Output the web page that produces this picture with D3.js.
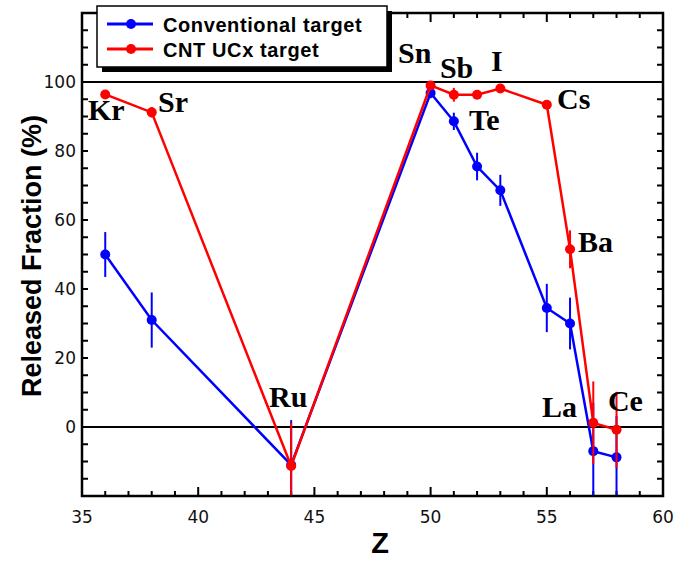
<!DOCTYPE html>
<html lang="en">
<head>
<meta charset="utf-8">
<title>Released fraction vs Z</title>
<script src="https://cdn.jsdelivr.net/npm/d3@7"></script>
<style>
  body { margin: 0; background: #fff; }
  .tick_text { font-family: "DejaVu Sans", Verdana, sans-serif; font-size: 17px; fill: #111; }
  .axis_title { font-family: "Liberation Sans", Arial, sans-serif; font-weight: bold; fill: black; }
  .elem_text { font-family: "Liberation Serif", "Times New Roman", serif; font-weight: bold; font-size: 30px; fill: black; }
  .legend_text { font-family: "Liberation Sans", Arial, sans-serif; font-weight: bold; font-size: 20px; letter-spacing: 0.6px; fill: black; }
</style>
</head>
<body>
<div id="chart"></div>
<script>
// data
var elements = ["Kr", "Sr", "Ru", "Sn", "Sb", "Te", "I", "Cs", "Ba", "La", "Ce"];
var zValues = [36, 38, 44, 50, 51, 52, 53, 55, 56, 57, 58];
var conventional = [50, 31, -11, 96.8, 88.6, 75.5, 68.6, 34.5, 30, -7, -8.8];
var conventionalErr = [6.5, 8, 13, 1.5, 2.5, 4, 4.5, 7, 7.5, 14, 12];
var cnt = [96.4, 91.2, -11.3, 99, 96.3, 96.3, 98.1, 93.4, 51.5, 1.2, -0.8];
var cntErr = [1, 1.5, 12.5, 1, 2, 1, 1, 1, 5.5, 12, 11];
var seriesNames = ["Conventional target", "CNT UCx target"];
var seriesColors = ["#0000ff", "#ff0000"];
var yTickLabels = [0, 20, 40, 60, 80, 100];
var xTickLabels = [35, 40, 45, 50, 55, 60];
// where each element name sits, in data units (z, value at baseline)
var labelAt = [[35.26, 88.9], [38.27, 91.2], [43.05, 5.7], [48.6, 105.4], [50.4, 101.1],
               [51.65, 86.0], [52.6, 103.1], [55.44, 92.1], [56.34, 50.6], [54.79, 2.8], [57.63, 4.6]];

var W = 680, H = 562;
var margin = {top: 13, right: 17, bottom: 66, left: 82};
var width = W - margin.left - margin.right,
    height = H - margin.top - margin.bottom;

var svg = d3.select("#chart").append("svg")
  .attr("width", W).attr("height", H);
var g = svg.append("g")
  .attr("transform", "translate(" + margin.left + "," + margin.top + ")");

var x = d3.scaleLinear().domain([35, 60]).range([0, width]);
var y = d3.scaleLinear().domain([-20, 120]).range([height, 0]);

g.append("defs").append("clipPath").attr("id", "plotclip")
  .append("rect").attr("width", width).attr("height", height);

// ticks (inside, mirrored)
var ticks = g.append("g").attr("stroke", "black").attr("stroke-width", 2);
d3.range(35, 61, 1).forEach(function(z) {
  var len = (z % 5 === 0) ? 9 : 5;
  ticks.append("line").attr("x1", x(z)).attr("x2", x(z)).attr("y1", height).attr("y2", height - len);
  ticks.append("line").attr("x1", x(z)).attr("x2", x(z)).attr("y1", 0).attr("y2", len);
});
d3.range(-20, 121, 5).forEach(function(v) {
  ticks.append("line").attr("x1", 0).attr("x2", 6).attr("y1", y(v)).attr("y2", y(v));
  ticks.append("line").attr("x1", width).attr("x2", width - 6).attr("y1", y(v)).attr("y2", y(v));
});

// reference lines at 0 and 100
[0, 100].forEach(function(v) {
  g.append("line").attr("x1", 0).attr("x2", width).attr("y1", y(v)).attr("y2", y(v))
    .attr("stroke", "black").attr("stroke-width", 2);
});

g.selectAll(".ytl").data(yTickLabels).enter().append("text")
  .attr("class", "tick_text").attr("x", -6).attr("y", function(d) { return y(d) + 6; })
  .attr("text-anchor", "end").text(function(d) { return d; });
g.selectAll(".xtl").data(xTickLabels).enter().append("text")
  .attr("class", "tick_text").attr("x", function(d) { return x(d); }).attr("y", height + 27)
  .attr("text-anchor", "middle").text(function(d) { return d; });

// series
var series = [conventional, cnt];
var errs = [conventionalErr, cntErr];
var plot = g.append("g").attr("clip-path", "url(#plotclip)");
var line = d3.line().x(function(d) { return x(d[0]); }).y(function(d) { return y(d[1]); });

series.forEach(function(vals, s) {
  var pts = zValues.map(function(z, i) { return [z, vals[i], errs[s][i]]; });
  var sg = plot.append("g");
  sg.selectAll("line.err").data(pts).enter().append("line")
    .attr("x1", function(d) { return x(d[0]); }).attr("x2", function(d) { return x(d[0]); })
    .attr("y1", function(d) { return y(d[1] - d[2]); }).attr("y2", function(d) { return y(d[1] + d[2]); })
    .attr("stroke", seriesColors[s]).attr("stroke-width", 2);
  sg.append("path").datum(pts).attr("d", line)
    .attr("fill", "none").attr("stroke", seriesColors[s]).attr("stroke-width", 2.5);
  sg.selectAll("circle").data(pts).enter().append("circle")
    .attr("cx", function(d) { return x(d[0]); }).attr("cy", function(d) { return y(d[1]); })
    .attr("r", 5).attr("fill", seriesColors[s]);
});

// frame
g.append("rect").attr("width", width).attr("height", height)
  .attr("fill", "none").attr("stroke", "black").attr("stroke-width", 2.5);

// element labels
g.selectAll(".elem").data(elements).enter().append("text")
  .attr("class", "elem_text")
  .attr("x", function(d, i) { return x(labelAt[i][0]); })
  .attr("y", function(d, i) { return y(labelAt[i][1]); })
  .text(function(d) { return d; });

// axis titles
svg.append("text").attr("class", "axis_title").attr("font-size", 29)
  .attr("x", 380).attr("y", 553).attr("text-anchor", "middle").text("Z");
svg.append("text").attr("class", "axis_title").attr("font-size", 27)
  .attr("transform", "translate(41,256) rotate(-90)")
  .attr("text-anchor", "middle").text("Released Fraction (%)");

// legend with drop shadow
var lg = svg.append("g").attr("transform", "translate(97,6)");
lg.append("rect").attr("x", 5).attr("y", 5).attr("width", 290).attr("height", 61).attr("fill", "black");
lg.append("rect").attr("width", 290).attr("height", 61).attr("fill", "white")
  .attr("stroke", "black").attr("stroke-width", 1.5);
seriesNames.forEach(function(name, s) {
  var yy = 18 + s * 25;
  lg.append("line").attr("x1", 10).attr("x2", 56).attr("y1", yy).attr("y2", yy)
    .attr("stroke", seriesColors[s]).attr("stroke-width", 3);
  lg.append("circle").attr("cx", 34).attr("cy", yy).attr("r", 5).attr("fill", seriesColors[s]);
  lg.append("text").attr("class", "legend_text").attr("x", 66).attr("y", yy + 8).text(name);
});
</script>
</body>
</html>
